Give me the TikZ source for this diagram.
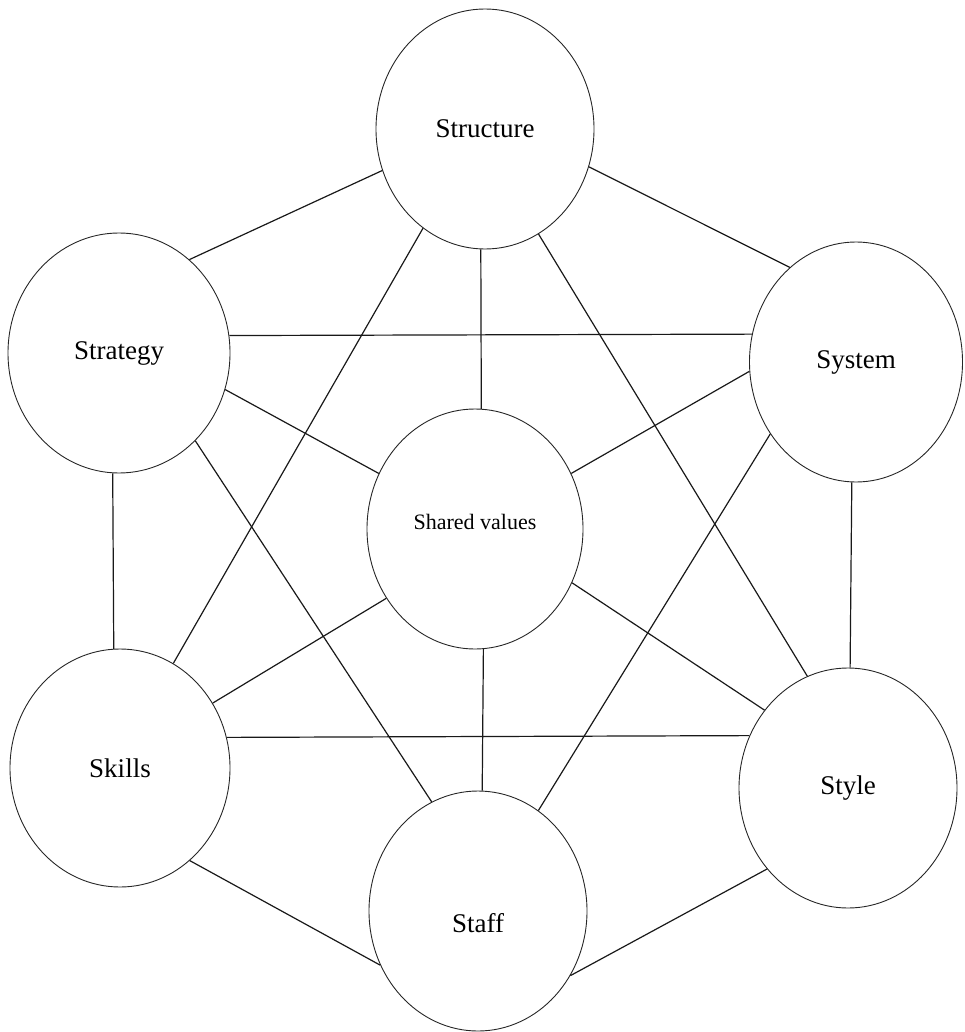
\documentclass[tikz,border=0pt]{standalone}
\usepackage{fontspec}
\setmainfont{Liberation Serif}
\usetikzlibrary{shapes.geometric}
\begin{document}
\begin{tikzpicture}[x=1pt,y=-1pt,
  sbox/.style={ellipse,draw=black!85,line width=0.9pt,inner sep=0pt,
    minimum width=218pt,minimum height=240pt,font=\fontsize{27}{32}\selectfont},
  link/.style={draw=black!90,line width=1.2pt}]
\useasboundingbox (0,0) rectangle (965,1032);
\node[sbox] (St) at (485,129) {Structure};
\node[sbox,minimum width=222pt] (Sg) at (119,353) {Strategy};
\node[sbox,minimum width=213pt] (Sy) at (856,362) {System};
\node[sbox,minimum width=216pt,font=\fontsize{22}{26}\selectfont] (SV) at (475,529) {\raisebox{0pt}[0pt][0pt]{Shared values}};
\node[sbox,minimum width=220pt,minimum height=238pt] (Sk) at (120,768) {Skills};
\node[sbox] (Sl) at (848,788) {Style};
\node[sbox] (Sf) at (478,911) {\raisebox{-21pt}[0pt][0pt]{Staff}};
\path[link] (St.202.4) -- (Sg.53.5);
\path[link] (St.-20.4) -- (Sy.125.1);
\path[link] (St.-92) -- (SV.87);
\path[link] (St.-122.8) -- (Sk.63);
\path[link] (St.-63) -- (Sl.110.7);
\path[link] (Sg.9.2) -- (Sy.165.7);
\path[link] (Sg.-19.8) -- (SV.150);
\path[link] (Sg.-93.3) -- (Sk.93.8);
\path[link] (Sg.-49.4) -- (Sf.113.3);
\path[link] (Sy.185.9) -- (SV.30);
\path[link] (Sy.-92.8) -- (Sl.89);
\path[link] (Sy.220.8) -- (Sf.59.4);
\path[link] (SV.218.7) -- (Sk.35.2);
\path[link] (SV.-86.7) -- (Sf.88);
\path[link] (SV.-29.7) -- (Sl.137.8);
\path[link] (Sk.16.5) -- (Sl.152.3);
\path[link] (Sk.-53.1) -- (Sf.209.9);
\path[link] (Sl.225.3) -- (Sf.-35.4);
\end{tikzpicture}
\end{document}
